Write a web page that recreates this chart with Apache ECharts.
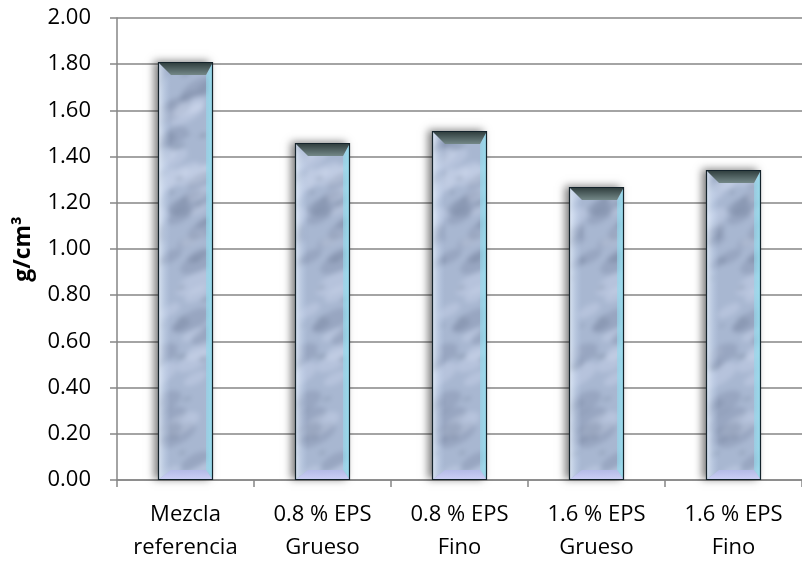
<!DOCTYPE html>
<html>
<head>
<meta charset="utf-8">
<script src="https://cdn.jsdelivr.net/npm/echarts@6/dist/echarts.min.js"></script>
<style>
  html, body { margin: 0; padding: 0; background: #fff; }
  #chart { width: 802px; height: 564px; }
</style>
</head>
<body>
<div id="chart"></div>
<script>
// Densidad por mezcla (g/cm³)
const categories = ['Mezcla\nreferencia', '0.8 % EPS\nGrueso', '0.8 % EPS\nFino', '1.6 % EPS\nGrueso', '1.6 % EPS\nFino'];
const densities = [1.81, 1.46, 1.51, 1.27, 1.34];
const yTicks = { min: 0, max: 2, interval: 0.2 };

// Soft marble texture for the bar faces (seeded, so every render is identical)
function makeMarble() {
  const W = 70, H = 480;
  const raw = document.createElement('canvas');
  raw.width = W; raw.height = H;
  const g = raw.getContext('2d');
  g.fillStyle = '#a8b7d1';
  g.fillRect(0, 0, W, H);
  let s = 987654;
  const rnd = () => { s = (s * 1103515245 + 12345) & 0x7fffffff; return s / 0x7fffffff; };
  for (let i = 0; i < 90; i++) {
    const x = rnd() * W, y = rnd() * H;
    const r = 6 + rnd() * 12;
    const dark = rnd() < 0.55;
    g.fillStyle = dark ? 'rgba(95,110,135,0.22)' : 'rgba(215,226,245,0.3)';
    g.beginPath(); g.ellipse(x, y, r * 1.3, r * 0.55, -0.5, 0, Math.PI * 2); g.fill();
  }
  for (let i = 0; i < 40; i++) {
    const x = rnd() * W, y = rnd() * H;
    g.fillStyle = 'rgba(85,98,120,0.25)';
    g.beginPath(); g.ellipse(x, y, 2 + rnd() * 3, 1 + rnd() * 1.5, -0.4, 0, Math.PI * 2); g.fill();
  }
  const out = document.createElement('canvas');
  out.width = W; out.height = H;
  const o = out.getContext('2d');
  o.filter = 'blur(2.5px)';
  o.drawImage(raw, 0, 0);
  o.drawImage(raw, 0, -H);
  o.drawImage(raw, 0, H);
  o.filter = 'none';
  return out;
}
const marble = makeMarble();

const chart = echarts.init(document.getElementById('chart'), null, { renderer: 'canvas' });

function renderBevelBar(params, api) {
  const idx = api.value(0);
  const val = api.value(1);
  const top = api.coord([idx, val]);
  const base = api.coord([idx, 0]);
  const w = api.size([1, 0])[0] * 0.405;
  const x0 = Math.round(top[0] - w / 2), x1 = Math.round(top[0] + w / 2);
  const y0 = Math.round(top[1]), yb = Math.round(base[1]);
  const sl = 13, sr = 7, t = 13, bb = 10;
  const lin = (a, b) => ({ type: 'linear', x: 0, y: 0, x2: 0, y2: 1, colorStops: [{ offset: 0, color: a }, { offset: 1, color: b }] });
  const linH = (a, b) => ({ type: 'linear', x: 0, y: 0, x2: 1, y2: 0, colorStops: [{ offset: 0, color: a }, { offset: 1, color: b }] });
  return {
    type: 'group',
    children: [
      { type: 'rect', shape: { x: x0, y: y0, width: x1 - x0, height: yb - y0 },
        style: { fill: '#9fb0c8', shadowColor: 'rgba(0,0,0,0.5)', shadowBlur: 8, shadowOffsetX: -4, shadowOffsetY: -1 } },
      { type: 'rect', shape: { x: x0, y: y0, width: x1 - x0, height: yb - y0 },
        style: { fill: { image: marble, repeat: 'repeat' } } },
      { type: 'polygon', shape: { points: [[x0, y0], [x0 + sl, y0 + t], [x0 + sl, yb - bb], [x0, yb]] },
        style: { fill: linH('rgba(240,248,255,0.7)', 'rgba(190,210,240,0.0)') } },
      { type: 'polygon', shape: { points: [[x1, y0], [x1, yb], [x1 - sr, yb - bb], [x1 - sr, y0 + t]] },
        style: { fill: linH('rgba(150,215,235,0.6)', 'rgba(150,225,240,0.95)') } },
      { type: 'polygon', shape: { points: [[x0, yb], [x0 + sl, yb - bb], [x1 - sr, yb - bb], [x1, yb]] },
        style: { fill: lin('rgba(180,186,232,0.9)', 'rgba(208,210,248,0.95)') } },
      { type: 'polygon', shape: { points: [[x0, y0], [x1, y0], [x1 - sr, y0 + t], [x0 + sl, y0 + t]] },
        style: { fill: lin('#2c3a3a', '#748888') } },
      { type: 'rect', shape: { x: x0 + 0.5, y: y0 + 0.5, width: x1 - x0 - 1, height: yb - y0 - 1 },
        style: { fill: null, stroke: '#14232b', lineWidth: 1.2 } }
    ]
  };
}

const font = '"Open Sans", "Liberation Sans", sans-serif';

chart.setOption({
  animation: false,
  backgroundColor: '#ffffff',
  grid: { left: 117, top: 18, width: 696, height: 467, containLabel: false },
  xAxis: {
    type: 'category',
    data: categories,
    axisLine: { lineStyle: { color: '#868686', width: 1.5 } },
    axisTick: { show: true, alignWithLabel: false, length: 7, lineStyle: { color: '#868686', width: 1.5 } },
    axisLabel: { color: '#000', fontSize: 22, fontFamily: font, lineHeight: 33, margin: 18, interval: 0 },
    splitLine: { show: false }
  },
  yAxis: {
    type: 'value',
    min: yTicks.min, max: yTicks.max, interval: yTicks.interval,
    name: 'g/cm³',
    nameLocation: 'middle',
    nameGap: 82,
    nameRotate: 90,
    nameTextStyle: { color: '#000', fontSize: 23, fontWeight: 'bold', fontFamily: font },
    axisLine: { show: true, lineStyle: { color: '#868686', width: 1.5 } },
    axisTick: { show: true, length: 7, lineStyle: { color: '#868686', width: 1.5 } },
    axisLabel: { color: '#000', fontSize: 22, fontFamily: font, margin: 26, formatter: v => v.toFixed(2) },
    splitLine: { show: true, lineStyle: { color: '#868686', width: 1.5 } }
  },
  series: [{
    type: 'custom',
    renderItem: renderBevelBar,
    encode: { x: 0, y: 1 },
    data: densities.map((v, i) => [i, v]),
    clip: false
  }]
});
</script>
</body>
</html>
